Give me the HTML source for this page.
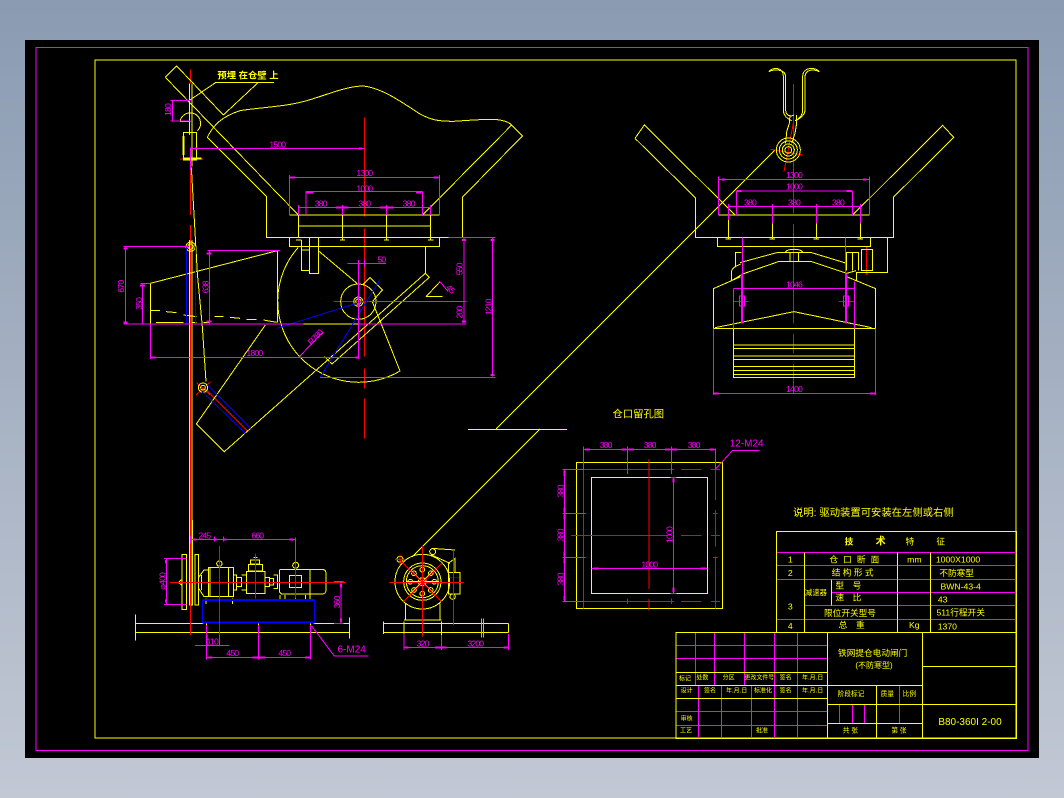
<!DOCTYPE html>
<html><head><meta charset="utf-8"><style>
html,body{margin:0;padding:0;width:1064px;height:798px;overflow:hidden;background:linear-gradient(#8a9bb2,#c2c8d4)}
svg{position:absolute;left:0;top:0;shape-rendering:crispEdges}
.y,.y *{stroke:#ff0;fill:none}.m,.m *{stroke:#f0f;fill:none}.r,.r *{stroke:#f00;fill:none}.b,.b *{stroke:#00f;fill:none}.c,.c *{stroke:#0ff;fill:none}
g.z{stroke-width:3}
text{font-family:"Liberation Sans","Noto Sans CJK SC",sans-serif;stroke:none;text-anchor:middle}
.mt{fill:#f0f;font-size:26px;letter-spacing:-2.5px}.yt{fill:#ff0;font-size:26px}
</style></head><body>
<svg width="1064" height="798" viewBox="0 0 1064 798" xmlns="http://www.w3.org/2000/svg">
<rect x="25" y="40" width="1014" height="718" fill="#000"/>
<rect x="36" y="47.5" width="992" height="703" fill="none" stroke="#f0f" stroke-width="1"/>
<rect x="95" y="60" width="921" height="678" fill="none" stroke="#ff0" stroke-width="1"/>
<path d="M775 150L496 429M468 429.5H567M540 429L412 557" fill="none" stroke="#ff0" stroke-width="1"/>

<!-- Side view -->
<g class="z" transform="translate(120,60) scale(.33333)">
<g class="r">
<path d="M212 28V70M212 330V465M212 495V1725M734 172V470M734 505V890M734 925V985M734 1015V1135M640 725H780M180 297H250M230 968L270 1005M228 1005L272 965M255 985L385 1115"/>
</g>
<g class="y">
<path d="M136 52L170 18L310 165M136 52L535 465"/>
<path d="M262 232L440 410V532H1027V412L1207 228L1175 195L908 465"/>
<path d="M262 232C280 195 305 170 360 152C420 142 500 140 560 122C620 105 680 78 730 78C790 85 850 130 900 162C930 178 950 184 1000 184C1060 180 1110 176 1140 180C1160 184 1170 190 1175 195"/>
<path d="M288 67H462M210 120L288 67M415 67L310 165"/>
<path d="M508 465H958M536 440V532M536 498H932M932 440V540M667 465V540M799 465V540M660 540H675M792 540H807M924 540H940M528 540H544"/>
<path d="M508 532V559H958V532M545 540V632H568M568 532V640H596V532M545 570H568"/>
<path d="M916 559V640"/>
<path d="M535 562A243 243 0 0 0 840 933L757 725M596 573L711 670M730 672L750 652L787 690L757 725"/>
<path d="M550 792H714"/>
<circle cx="715" cy="725" r="53"/><circle cx="715" cy="725" r="14"/><circle cx="715" cy="725" r="8"/>
<path d="M472 572V787M91 792V670L472 572M470 787L430 780M410 778H380M360 775L330 772M310 770H283M270 788H250M230 788H215M190 788H108M91 752H120M138 755L170 758M190 765L230 770"/>
<path d="M918 710L960 665M918 710H968"/>
<path d="M436 795L229 1092L313 1175L916 640L928 652L636 912L613 890"/>
<path d="M208 70V225M216 70V320M208 540V1635M216 540V1635M214 322L222 462L232 640L247 800L258 965"/>
<circle cx="212" cy="560" r="14"/><circle cx="212" cy="560" r="8"/>
<circle cx="249" cy="983" r="14"/><circle cx="249" cy="983" r="7"/>
<path d="M180 185A31 31 0 1 1 232 212M180 185H212"/>
<rect x="190" y="218" width="40" height="82"/><path d="M190 228V285" stroke-width="6"/><path d="M192 296H245" stroke-width="6"/>
</g>
<g class="b">
<path d="M200 560V790M226 560V790M262 975L393 1105M247 995L378 1122M470 805L735 722M600 953L780 658"/>
</g>
<g class="m">
<path d="M212 262V330M152 122H212M152 183H212M158 122V183M212 265H734M508 352H958M508 345V465M958 345V465M558 395H908M558 395V465M908 395V465M536 442H932M536 435V465M667 435V465M799 435V465M932 435V465"/>
<path d="M10 560H205M10 792H550M714 792H1040M17 560V792M62 670H91M68 670V792M262 572H480M268 572V792M91 792V897M716 600V897M91 892H716M682 610H798M734 600V620M750 725H1040M985 532H1125M1032 532V792M1118 532V950M600 952H1125M538 890L610 815"/>
<path d="M960 665L985 695"/>
<path d="M10 565H22M10 787H22M60 677H75M260 580H275M260 784H275M224 265H236M716 265H726M510 352H525M940 352H955M560 397H580M888 397H905M648 442H685M780 442H820M1026 540H1038M1026 785H1038M1112 540H1124M1112 945H1124M96 892H106M706 892H716" stroke-width="6"/>
</g>
<text class="mt" transform="translate(153,150) rotate(-90)">180</text>
<text class="mt" x="472" y="263">1500</text>
<text class="mt" x="733" y="348">1300</text>
<text class="mt" x="733" y="394">1000</text>
<text class="mt" x="602" y="440">380</text><text class="mt" x="733" y="440">380</text><text class="mt" x="866" y="440">380</text>
<text class="mt" x="784" y="608">50</text>
<text class="mt" transform="translate(12,680) rotate(-90)">670</text>
<text class="mt" transform="translate(66,732) rotate(-90)">350</text>
<text class="mt" transform="translate(266,682) rotate(-90)">638</text>
<text class="mt" transform="translate(1028,628) rotate(-90)">550</text>
<text class="mt" transform="translate(1028,758) rotate(-90)">200</text>
<text class="mt" transform="translate(1115,742) rotate(-90)">1210</text>
<text class="mt" x="403" y="888">1800</text>
<text class="mt" transform="translate(592,838) rotate(-45)">R780</text>
<text class="mt" transform="translate(985,693) rotate(45)">45</text>
<text class="yt" x="384" y="56" style="font-weight:bold;font-size:28px">预埋 在仓壁 上</text>
</g>

<!-- Front view -->
<g class="z" transform="translate(620,60) scale(.33333)">
<g class="r"><path d="M520 72V460M520 492V790M520 822V880M520 912V1000M452 268L548 285M520 190L492 335M740 560V645M340 724H386M657 724H700"/></g>
<g class="y">
<path d="M45 235L73 195L345 465M45 235L226 413V532H820V412L1001 232L968 196L698 465M295 465H749"/>
<path d="M292 532V559H752V532M752 532H803V637H708M724 568H758V632H724Z"/>
<path d="M325 460V537M457 460V537M589 460V537M721 460V537M317 537H333M449 537H465M581 537H597M713 537H729"/>
<path d="M680 632V577H716V632M698 577V632M346 620V577H365"/>
<path d="M360 608L470 578H575L680 610M335 662V632C338 622 350 618 362 612M335 662L368 642L475 605H575L680 640L708 632M710 637V662"/>
<path d="M496 576C505 565 540 565 548 576M510 578V605H536V578"/>
<path d="M280 686L362 650M767 686L680 650M280 686V805M767 686V805M280 805H767M285 803L522 755L755 803M340 805V952H703V805"/>
<path d="M340 855H703M340 865H703M340 888H703M340 898H703M340 920H703M340 932H703M340 943H703"/>
<path d="M447 35C455 22 490 18 490 50V150C490 168 505 178 515 182M447 35C460 28 497 25 497 52V150C497 165 510 172 522 165M598 35C590 22 548 18 548 50V150C548 168 535 178 525 182M598 35C585 28 555 25 555 52V150C555 168 535 178 528 182"/>
<path d="M510 165L508 190L500 215L497 250M530 165V190L525 220L515 250"/>
<circle cx="505" cy="270" r="36"/><circle cx="505" cy="270" r="27"/><circle cx="505" cy="270" r="18"/><circle cx="505" cy="270" r="10"/>
</g>
<g class="m">
<path d="M295 350V465M749 350V465M295 358H749M349 393H698M349 393V465M698 393V465M325 439H721M325 432V480M457 432V490M589 432V490M721 432V490"/>
<path d="M367 532V640M677 532V640M340 685V805M703 665V805M340 685H703M280 805V1005M767 805V1005M280 1000H767"/>
<rect x="358" y="708" width="16" height="30"/><rect x="670" y="708" width="16" height="30"/>
<path d="M366 640V790M678 640V790" stroke-width="6"/>
<path d="M305 358H315M729 358H740M350 393H365M680 393H695M282 1000H296M750 1000H765" stroke-width="6"/>
</g>
<text class="mt" x="522" y="354">1300</text><text class="mt" x="522" y="388">1000</text>
<text class="mt" x="390" y="436">380</text><text class="mt" x="522" y="436">380</text><text class="mt" x="654" y="436">380</text>
<text class="mt" x="522" y="683">1046</text><text class="mt" x="522" y="996">1400</text>
</g>

<!-- Drive views -->
<g class="z" transform="translate(130,520) scale(.33333)">
<g class="y">
<path d="M16 283V362M16 310H220M16 338H658M550 310H658M658 293V355"/>
<rect x="156" y="103" width="14" height="165"/><rect x="195" y="103" width="11" height="152"/><path d="M178 0V255H188V0"/>
<path d="M145 187L156 178M145 187L156 196M206 172L222 150H235M206 205L222 230H235M215 165V210"/>
<rect x="235" y="142" width="75" height="88"/><path d="M240 142V230M295 142V230M228 235V252M307 235V252"/>
<circle cx="268" cy="131" r="8"/>
<path d="M310 165H320V210H310M320 172H335V200H320M335 165H350V210H335"/>
<rect x="350" y="155" width="55" height="65"/><rect x="355" y="133" width="43" height="20"/><rect x="362" y="120" width="26" height="12"/><path d="M370 112H382"/>
<path d="M405 172H418V200H405M418 175H430V195H418M430 165H442V205H430"/>
<path d="M450 148H575Q588 148 588 160V210Q588 222 575 222H455L448 215V155ZM540 148V225"/>
<rect x="478" y="167" width="37" height="36"/><circle cx="497" cy="136" r="9"/>
<path d="M450 225V238M465 225V238M497 225V238M527 225V238M540 225V238"/>
<path d="M230 308V318M385 308V318M541 308V318"/>
<path d="M760 305V342M760 310H1135M760 338H1135M1135 310V338"/>
<circle cx="877" cy="185" r="82"/><circle cx="877" cy="185" r="56"/><circle cx="877" cy="185" r="48"/><circle cx="877" cy="185" r="12"/>
<path d="M877 137V233M829 185H925M843 151L911 219M911 151L843 219"/>
<circle cx="877" cy="149" r="7"/><circle cx="877" cy="221" r="7"/><circle cx="841" cy="185" r="7"/><circle cx="913" cy="185" r="7"/><circle cx="852" cy="160" r="7"/><circle cx="902" cy="160" r="7"/><circle cx="852" cy="210" r="7"/><circle cx="902" cy="210" r="7"/>
<circle cx="810" cy="118" r="9"/><circle cx="908" cy="95" r="9"/><circle cx="968" cy="230" r="8"/>
<path d="M905 85L975 90M905 105L960 130M955 130L975 115V157H955Z"/>
<rect x="955" y="157" width="35" height="65"/>
<path d="M826 250V300M930 250V300M822 300H934M822 305V345M934 305V345"/>
</g>
<g class="b"><path d="M217 240V308M553 240V308"/><path d="M217 240H553M217 308H553" stroke-width="6"/><path d="M958 172H988"/></g>
<g class="c"><path d="M1055 295V353M1060 295V353"/></g>
<g class="r"><path d="M120 187H648M268 78V380M181 0V345M377 100V235M497 80V235M777 187H1002M877 78V350M970 90V315M810 120L935 245M820 245L935 130M795 118H825M810 103V133"/></g>
<g class="m">
<path d="M181 58H497M181 48V70M253 50V65M281 50V65M497 52V130M102 115H170M102 253H170M110 115V253M612 185H640M633 185V310M612 310H640M195 376H298M231 345V376M268 345V376M230 412H543M230 315V418M385 315V418M541 315V418M545 318L613 408H715M822 340V390M1135 342V390M935 345V390M822 382H1135"/>
<path d="M190 58H200M250 58H260M280 58H290M478 58H490M108 120V130M108 238V248M633 192V202M633 296V306M368 412H405M235 412H248M525 412H540M915 382H950M825 382H835M1120 382H1132" stroke-width="6"/>
</g>
<text class="mt" x="223" y="56">245</text><text class="mt" x="382" y="56">660</text>
<text class="mt" transform="translate(107,184) rotate(-90)">φ400</text>
<text class="mt" transform="translate(630,247) rotate(-90)">360</text>
<text class="mt" x="247" y="373">110</text>
<text class="mt" x="307" y="408">450</text><text class="mt" x="463" y="408">450</text>
<text class="mt" x="665" y="398" style="font-size:30px;letter-spacing:0">6-M24</text>
<text class="mt" x="878" y="380">320</text><text class="mt" x="1036" y="380">3200</text>
</g>

<!-- Pit opening -->
<g class="z" transform="translate(550,400) scale(.33333)">
<g class="y"><rect x="79" y="187" width="438" height="438"/><rect x="124" y="232" width="348" height="348"/></g>
<g class="r"><path d="M100 187V625M40 208H372M393 208H453M483 208H510M40 604H372M393 604H453M483 604H510M232 200V216M364 200V216M232 596V612M364 596V612M297 177V567M297 597V632M63 406H353M393 406H453M483 406H510M93 340H107M93 472H107M93 406H107M496 187V300M496 330V440M496 470V625M489 340H503M489 472H503"/></g>
<g class="m">
<path d="M100 148H496M100 140V208M232 140V222M364 140V222M496 145V208M44 208V604M38 208H100M38 340H107M38 472H107M38 604H100M370 232V580M362 232H380M362 580H380M124 505H472M496 208L547 152H628"/>
<path d="M105 148H120M214 148H230M236 148H252M345 148H362M366 148H382M478 148H494M44 212V228M44 322V338M44 344V358M44 455V470M44 476V490M44 588V602M370 236V248M370 562V576M130 505H145M452 505H470" stroke-width="6"/>
</g>
<text class="mt" x="167" y="144">380</text><text class="mt" x="299" y="144">380</text><text class="mt" x="431" y="144">380</text>
<text class="mt" transform="translate(41,274) rotate(-90)">380</text><text class="mt" transform="translate(41,406) rotate(-90)">380</text><text class="mt" transform="translate(41,538) rotate(-90)">380</text>
<text class="mt" transform="translate(367,405) rotate(-90)">1000</text>
<text class="mt" x="298" y="503">1000</text>
<text class="mt" x="590" y="140" style="font-size:30px;letter-spacing:0">12-M24</text>
<text class="yt" x="265" y="52" style="font-size:31px">仓口留孔图</text>
</g>

<!-- Table and title block -->
<g class="z" transform="translate(670,500) scale(.33333)">
<g class="m">
<path d="M319 157H1040M319 196H1040M403 238H1040M319 238H403M485 277H1040M403 316H1040M319 358H1040"/>
<path d="M18 436H472M18 475H472M76 397V556M133 397V556M223 397V556M313 397V556M382 397V556M85 556V716M154 556V716M244 556V716M313 556V716M382 556V716M18 634H472M18 676H472M688 556V670M508 613V670M547 613V670M583 613V670"/>
</g>
<g class="y">
<path d="M319 95H1040V397H319ZM403 157V397M682 157V397M782 157V397M485 238V316"/>
<path d="M18 397H1040V716H18ZM472 397V716M757 397V716M757 499H1040M757 613H1040M18 517H472M18 556H757M18 595H472M472 613H757M472 670H757M619 556V716"/>
</g>
<g fill="#ff0">
<text class="yt" x="610" y="48" style="font-size:31px">说明: 驱动装置可安装在左侧或右侧</text>
<text class="yt" x="537" y="134" style="font-weight:bold">技</text><text class="yt" x="632" y="134" style="font-weight:bold;font-size:30px">术</text><text class="yt" x="720" y="134">特</text><text class="yt" x="812" y="134">征</text>
<text class="yt" x="361" y="188">1</text><text class="yt" x="361" y="228">2</text><text class="yt" x="361" y="328">3</text><text class="yt" x="361" y="387">4</text>
<text class="yt" x="553" y="188" style="word-spacing:8px">仓 口 断 面</text><text class="yt" x="548" y="226">结 构 形 式</text>
<text class="yt" x="438" y="285" style="font-size:22px">减速器</text>
<text class="yt" x="535" y="265">型　号</text><text class="yt" x="535" y="302">速　比</text>
<text class="yt" x="540" y="348">限位开关型号</text><text class="yt" x="545" y="384">总　重</text>
<text class="yt" x="733" y="188">mm</text><text class="yt" x="733" y="384">Kg</text>
<text class="yt" x="864" y="188">1000X1000</text><text class="yt" x="860" y="228">不防寒型</text><text class="yt" x="872" y="268">BWN-43-4</text><text class="yt" x="818" y="308">43</text><text class="yt" x="872" y="347">511行程开关</text><text class="yt" x="832" y="388">1370</text>
<text class="yt" x="608" y="468">铁网提仓电动闸门</text><text class="yt" x="612" y="504" style="font-size:24px">(不防寒型)</text>
<text class="yt" x="543" y="588" style="font-size:20px">阶段标记</text><text class="yt" x="652" y="588" style="font-size:20px">质量</text><text class="yt" x="718" y="588" style="font-size:20px">比例</text>
<text class="yt" x="541" y="698" style="font-size:20px">共 张</text><text class="yt" x="687" y="698" style="font-size:20px">第 张</text>
<text class="yt" x="900" y="675" style="font-size:30px">B80-360I 2-00</text>
<text class="yt" x="45" y="541" style="font-size:18px">标记</text><text class="yt" x="97" y="539" style="font-size:18px">处数</text><text class="yt" x="176" y="539" style="font-size:18px">分区</text><text class="yt" x="268" y="539" style="font-size:18px">更改文件号</text><text class="yt" x="347" y="539" style="font-size:18px">签名</text><text class="yt" x="428" y="539" style="font-size:18px">年.月.日</text>
<text class="yt" x="50" y="578" style="font-size:18px">设计</text><text class="yt" x="120" y="578" style="font-size:18px">签名</text><text class="yt" x="200" y="578" style="font-size:18px">年.月.日</text><text class="yt" x="279" y="578" style="font-size:18px">标准化</text><text class="yt" x="347" y="578" style="font-size:18px">签名</text><text class="yt" x="428" y="578" style="font-size:18px">年.月.日</text>
<text class="yt" x="50" y="661" style="font-size:18px">审核</text><text class="yt" x="48" y="697" style="font-size:18px">工艺</text><text class="yt" x="276" y="698" style="font-size:18px">批准</text>
</g>
</g>
</svg>
</body></html>
